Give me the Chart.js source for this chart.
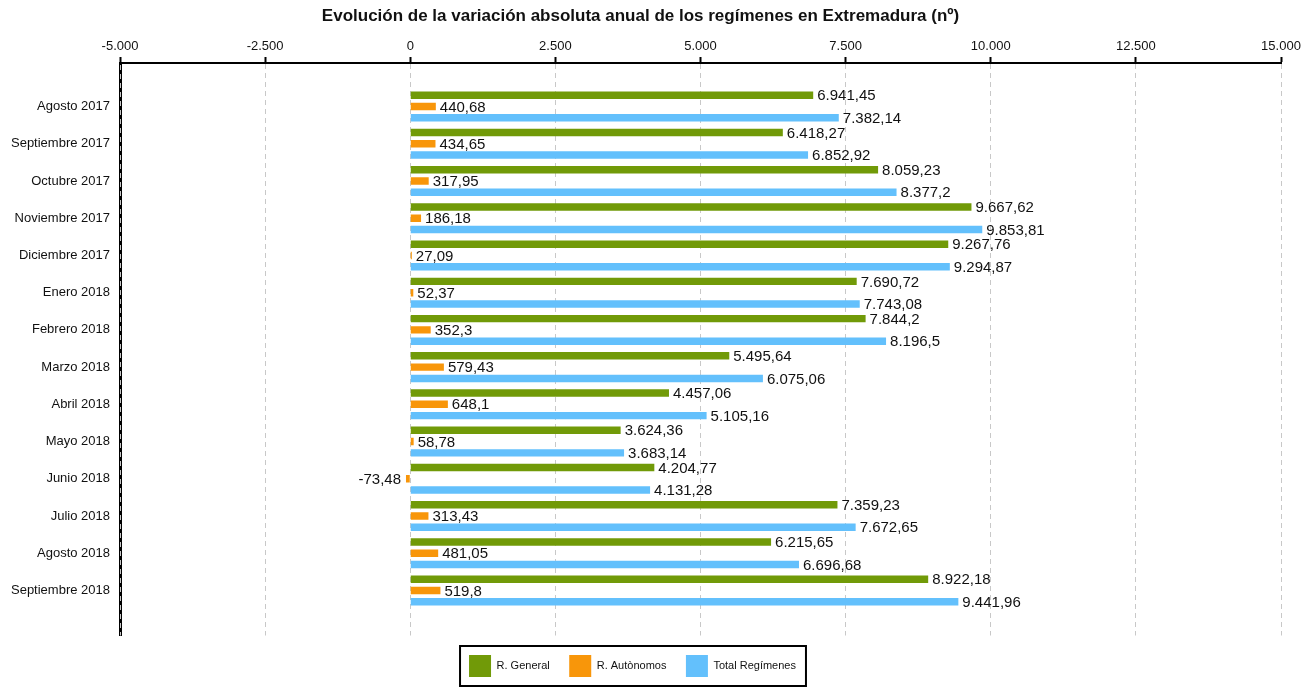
<!DOCTYPE html>
<html lang="es">
<head>
    <meta charset="UTF-8">
    <title>Evolución de la variación absoluta anual de los regímenes en Extremadura</title>
    <script src="https://cdn.jsdelivr.net/npm/chart.js"></script>
    <style>
        * { margin: 0; padding: 0; box-sizing: border-box; }
        body { background: #fff; font-family: "Liberation Sans", Arial, sans-serif; }
        .wrap { width: 1312px; height: 687px; position: relative; }
    </style>
</head>
<body>
    <div class="wrap">
        <canvas id="regChart"></canvas>
    </div>

    <script>
        // Months (categories)
        const months = [
            'Agosto 2017', 'Septiembre 2017', 'Octubre 2017', 'Noviembre 2017',
            'Diciembre 2017', 'Enero 2018', 'Febrero 2018', 'Marzo 2018',
            'Abril 2018', 'Mayo 2018', 'Junio 2018', 'Julio 2018',
            'Agosto 2018', 'Septiembre 2018'
        ];

        // Series values
        const rGeneral = [6941.45, 6418.27, 8059.23, 9667.62, 9267.76, 7690.72, 7844.2,
                          5495.64, 4457.06, 3624.36, 4204.77, 7359.23, 6215.65, 8922.18];
        const rAutonomos = [440.68, 434.65, 317.95, 186.18, 27.09, 52.37, 352.3,
                            579.43, 648.1, 58.78, -73.48, 313.43, 481.05, 519.8];
        const totalRegimenes = [7382.14, 6852.92, 8377.2, 9853.81, 9294.87, 7743.08, 8196.5,
                                6075.06, 5105.16, 3683.14, 4131.28, 7672.65, 6696.68, 9441.96];

        const seriesNames = ['R. General', 'R. Autònomos', 'Total Regímenes'];
        const seriesColors = ['#719a08', '#f8960a', '#63c0fc'];

        // Spanish number format: 7.382,14
        function fmt(v) {
            const neg = v < 0;
            const parts = Math.abs(v).toString().split('.');
            const intPart = parts[0].replace(/\B(?=(\d{3})+(?!\d))/g, '.');
            return (neg ? '-' : '') + intPart + (parts[1] ? ',' + parts[1] : '');
        }

        const toPoints = arr => arr.map((v, i) => ({ x: v, y: i }));

        // Value labels at the end of each bar
        const valueLabels = {
            id: 'valueLabels',
            afterDatasetsDraw(chart) {
                const ctx = chart.ctx;
                ctx.save();
                ctx.font = '15px "Liberation Sans", Arial, sans-serif';
                ctx.fillStyle = '#111';
                ctx.textBaseline = 'middle';
                chart.data.datasets.forEach((ds, di) => {
                    chart.getDatasetMeta(di).data.forEach((bar, i) => {
                        const v = ds.data[i].x;
                        if (v < 0) {
                            ctx.textAlign = 'right';
                            ctx.fillText(fmt(v), bar.x - 5, bar.y + 1);
                        } else {
                            ctx.textAlign = 'left';
                            ctx.fillText(fmt(v), bar.x + 4, bar.y + 1);
                        }
                    });
                });
                ctx.restore();
            }
        };

        // Legend: nudge left a bit and draw a frame around it;
        // also the dashed grid line showing through the left axis
        const legendFrame = {
            id: 'legendFrame',
            afterLayout(chart) {
                chart.legend.left -= 8;
                chart.legend.right -= 8;
            },
            afterDraw(chart) {
                const ctx = chart.ctx;
                const area = chart.chartArea;
                ctx.save();
                ctx.strokeStyle = '#c8c8c8';
                ctx.lineWidth = 1;
                ctx.setLineDash([5, 4]);
                ctx.beginPath();
                ctx.moveTo(area.left + 0.5, area.top + 2);
                ctx.lineTo(area.left + 0.5, area.bottom);
                ctx.stroke();
                ctx.restore();

                const boxes = chart.legend.legendHitBoxes;
                if (!boxes || !boxes.length) return;
                const left = Math.min(...boxes.map(b => b.left)) - 9;
                const right = Math.max(...boxes.map(b => b.left + b.width)) + 10;
                ctx.save();
                ctx.strokeStyle = '#000';
                ctx.lineWidth = 2;
                ctx.strokeRect(left, 646, right - left, 40);
                ctx.restore();
            }
        };

        new Chart(document.getElementById('regChart'), {
            type: 'bar',
            data: {
                datasets: [
                    { label: seriesNames[0], data: toPoints(rGeneral), backgroundColor: seriesColors[0] },
                    { label: seriesNames[1], data: toPoints(rAutonomos), backgroundColor: seriesColors[1] },
                    { label: seriesNames[2], data: toPoints(totalRegimenes), backgroundColor: seriesColors[2] }
                ]
            },
            options: {
                indexAxis: 'y',
                responsive: true,
                maintainAspectRatio: false,
                animation: false,
                categoryPercentage: 0.91,
                barPercentage: 0.66,
                layout: { padding: { left: 0, right: 31, bottom: 0 } },
                scales: {
                    x: {
                        type: 'linear',
                        position: 'top',
                        min: -5000,
                        max: 15000,
                        ticks: {
                            stepSize: 2500,
                            color: '#111',
                            font: { size: 13, family: '"Liberation Sans", Arial, sans-serif' },
                            padding: 3,
                            callback: v => fmt(v)
                        },
                        grid: {
                            color: '#c8c8c8',
                            lineWidth: 1,
                            tickColor: '#000',
                            tickWidth: 2,
                            tickLength: 6,
                            tickBorderDash: [],
                            drawTicks: true
                        },
                        border: { color: '#000', width: 2, dash: [5, 4] }
                    },
                    y: {
                        type: 'linear',
                        reverse: true,
                        offset: false,
                        bounds: 'data',
                        min: -1.17,
                        max: 14.21,
                        afterBuildTicks: scale => {
                            scale.ticks = months.map((m, i) => ({ value: i }));
                        },
                        afterFit: scale => { scale.width = 120; },
                        ticks: {
                            color: '#111',
                            font: { size: 13, family: '"Liberation Sans", Arial, sans-serif' },
                            padding: 10,
                            autoSkip: false,
                            callback: v => months[v] || ''
                        },
                        grid: { display: false, drawTicks: false },
                        border: { color: '#000', width: 3 }
                    }
                },
                plugins: {
                    title: {
                        display: true,
                        text: 'Evolución de la variación absoluta anual de los regímenes en Extremadura (nº)',
                        color: '#111',
                        font: { size: 17, weight: 'bold', family: '"Liberation Sans", Arial, sans-serif' },
                        padding: { top: 6, bottom: 9 }
                    },
                    legend: {
                        position: 'bottom',
                        labels: {
                            boxWidth: 22,
                            boxHeight: 22,
                            padding: 19.5,
                            color: '#111',
                            font: { size: 11, family: '"Liberation Sans", Arial, sans-serif' }
                        }
                    },
                    tooltip: { enabled: false }
                }
            },
            plugins: [valueLabels, legendFrame]
        });
    </script>
</body>
</html>
